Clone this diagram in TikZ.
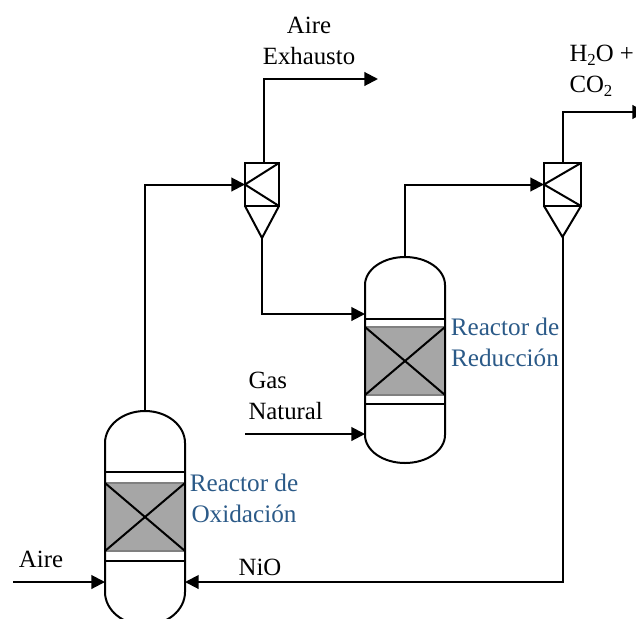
\documentclass[tikz,border=0pt]{standalone}
\usepackage{fontspec}
\setmainfont{Liberation Serif}
\usetikzlibrary{arrows.meta}
\definecolor{labelblue}{HTML}{2B5A88}
\definecolor{bedgray}{HTML}{A6A6A6}
\newcommand{\lowsub}[1]{\raisebox{-2.2pt}{\fontsize{8.4}{8.4}\selectfont #1}}
\begin{document}
\begin{tikzpicture}[
      x=0.5pt, y=0.5pt,
      line width=1pt,
      flow/.style={-{Triangle[length=6.8pt, width=6.8pt]}},
      txt/.style={inner sep=0pt, align=center, font=\fontsize{12.4}{15.5}\selectfont},
      lbl/.style={txt, text=labelblue, font=\fontsize{12.6}{15.5}\selectfont},
      bed/.style={rectangle, fill=bedgray, draw=gray, line width=0.7pt, minimum width=40pt, minimum height=34pt, inner sep=0pt, outer sep=0pt},
      cyc/.style={rectangle, draw, inner sep=0pt, outer sep=0pt, minimum height=21.5pt}
    ]
      \clip (0,0) rectangle (636,618);

      % Oxidation reactor
      \node[bed] (bed_ox) at (145,101) {};
      \draw (bed_ox.north west) -- (bed_ox.south east);
      \draw (bed_ox.south west) -- (bed_ox.north east);
      \coordinate (top_ox) at (145,207);
      \coordinate (in_ox_w) at (105,36);
      \coordinate (in_ox_e) at (185,36);
      \draw (105,26) -- (105,175) arc[start angle=180, end angle=0, x radius=40, y radius=32]
        -- (185,26) arc[start angle=0, end angle=-180, x radius=40, y radius=33];
      \draw (105,146) -- (185,146);
      \draw (105,57) -- (185,57);

      % Reduction reactor
      \node[bed] (bed_red) at (405,257) {};
      \draw (bed_red.north west) -- (bed_red.south east);
      \draw (bed_red.south west) -- (bed_red.north east);
      \coordinate (top_red) at (405,361);
      \coordinate (in_red_a) at (365,304);
      \coordinate (in_red_b) at (365,184);
      \draw (365,183) -- (365,333) arc[start angle=180, end angle=0, x radius=40, y radius=28]
        -- (445,183) arc[start angle=0, end angle=-180, x radius=40, y radius=28];
      \draw (365,299) -- (445,299);
      \draw (365,214) -- (445,214);

      % Cyclones
      \node[cyc, minimum width=17pt] (cyc_a) at (262,433.5) {};
      \coordinate (tip_a) at (262,380);
      \draw (cyc_a.north east) -- (cyc_a.west) -- (cyc_a.south east);
      \draw (cyc_a.south west) -- (tip_a) -- (cyc_a.south east);
      \node[cyc, minimum width=18.5pt] (cyc_b) at (562.5,433.5) {};
      \coordinate (tip_b) at (562.5,381);
      \draw (cyc_b.north east) -- (cyc_b.west) -- (cyc_b.south east);
      \draw (cyc_b.south west) -- (tip_b) -- (cyc_b.south east);

      % Streams
      \coordinate (exh_end) at (378,539);
      \coordinate (co2_end) at (646,506);
      \coordinate (aire_start) at (13,36);
      \coordinate (gas_start) at (245,184);
      \draw[flow] (top_ox) |- (cyc_a.west);
      \draw[flow] ([xshift=1pt]cyc_a.north) |- (exh_end);
      \draw[flow] (tip_a) |- (in_red_a);
      \draw[flow] (top_red) |- (cyc_b.west);
      \draw[flow] (cyc_b.north) |- (co2_end);
      \draw[flow] (tip_b) |- (in_ox_e);
      \draw[flow] (aire_start) -- (in_ox_w);
      \draw[flow] (gas_start) -- (in_red_b);

      % Labels
      \node[txt] (lbl_exh) at (309,577) {Aire\\Exhausto};
      \node[txt, align=left, anchor=west] (lbl_co2) at (568.5,547) {H\lowsub{2}O +\\CO\lowsub{2}};
      \node[txt, align=left, anchor=west] (lbl_gas) at (247.5,222) {Gas\\Natural};
      \node[txt] (lbl_aire) at (41,59) {Aire};
      \node[txt] (lbl_nio) at (260,51) {NiO};
      \node[lbl] (lbl_ox) at (244,120) {Reactor de\\Oxidación};
      \node[lbl] (lbl_red) at (505,276) {Reactor de\\Reducción};
    \end{tikzpicture}
\end{document}
